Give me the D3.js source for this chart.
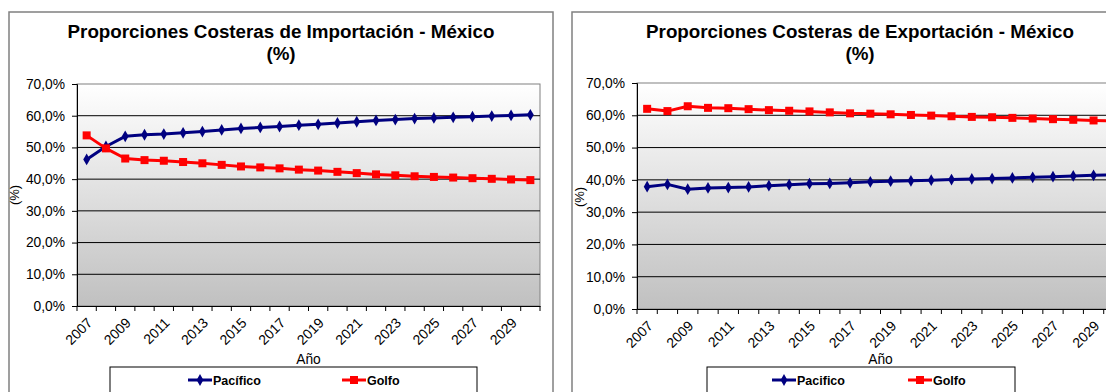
<!DOCTYPE html>
<html>
<head>
<meta charset="utf-8">
<script src="https://cdn.jsdelivr.net/npm/d3@7"></script>
<style>
  body { margin: 0; background: #fff; }
  svg { display: block; font-family: "Liberation Sans", Arial, sans-serif; }
</style>
</head>
<body>
<svg id="chart" width="1106" height="392"></svg>
<script>
// Categories (years) and y-axis ticks
const years = [2007, 2008, 2009, 2010, 2011, 2012, 2013, 2014, 2015, 2016, 2017, 2018,
               2019, 2020, 2021, 2022, 2023, 2024, 2025, 2026, 2027, 2028, 2029, 2030];
const yTickValues = [0, 10, 20, 30, 40, 50, 60, 70];

// Import shares (%)
const importPacifico = [46.2, 50.3, 53.5, 54.0, 54.2, 54.6, 55.0, 55.5, 56.0, 56.3, 56.6, 57.0,
                        57.3, 57.7, 58.1, 58.5, 58.8, 59.1, 59.3, 59.5, 59.7, 59.9, 60.1, 60.3];
const importGolfo    = [53.8, 49.7, 46.5, 46.0, 45.8, 45.4, 45.0, 44.5, 44.0, 43.7, 43.4, 43.0,
                        42.7, 42.3, 41.9, 41.5, 41.2, 40.9, 40.7, 40.5, 40.3, 40.1, 39.9, 39.7];

// Export shares (%)
const exportPacifico = [37.9, 38.6, 37.1, 37.5, 37.6, 37.8, 38.2, 38.5, 38.8, 38.9, 39.1, 39.4,
                        39.6, 39.7, 39.9, 40.1, 40.3, 40.4, 40.6, 40.8, 41.0, 41.2, 41.4, 41.6];
const exportGolfo    = [62.0, 61.3, 62.8, 62.3, 62.2, 61.9, 61.6, 61.4, 61.2, 60.9, 60.6, 60.5,
                        60.3, 60.1, 59.9, 59.7, 59.5, 59.4, 59.2, 59.0, 58.8, 58.6, 58.4, 58.3];

const svg = d3.select("#chart");

// shared vertical gradient for the plot areas
const defs = svg.append("defs");
const grad = defs.append("linearGradient")
  .attr("id", "plotFill").attr("x1", 0).attr("y1", 0).attr("x2", 0).attr("y2", 1);
grad.append("stop").attr("offset", "0%").attr("stop-color", "#ffffff");
grad.append("stop").attr("offset", "100%").attr("stop-color", "#c0c0c0");

const fmtPct = v => d3.format(".1f")(v).replace(".", ",") + "%";

function drawPanel(cfg) {
  const g = svg.append("g");

  // outer chart border
  g.append("rect")
    .attr("x", cfg.frame[0]).attr("y", cfg.frame[1])
    .attr("width", cfg.frame[2]).attr("height", cfg.frame[3])
    .attr("fill", "#fff").attr("stroke", "#808080").attr("stroke-width", 1.5);

  // title, two lines
  const title = g.append("text")
    .attr("x", cfg.titleX).attr("y", 38)
    .attr("text-anchor", "middle")
    .attr("font-size", 18.8).attr("font-weight", "bold").attr("fill", "#000");
  title.append("tspan").attr("x", cfg.titleX).text(cfg.title);
  title.append("tspan").attr("x", cfg.titleX).attr("dy", 22).text("(%)");

  const x = d3.scaleBand().domain(years).range([cfg.left, cfg.right]).padding(0);
  const y = d3.scaleLinear().domain([0, 70]).range([cfg.bottom, cfg.top]);
  const cx = d => x(d) + x.bandwidth() / 2;

  // plot area
  g.append("rect")
    .attr("x", cfg.left).attr("y", cfg.top)
    .attr("width", cfg.right - cfg.left).attr("height", cfg.bottom - cfg.top)
    .attr("fill", "url(#plotFill)").attr("stroke", "#808080").attr("stroke-width", 1);

  // horizontal gridlines
  g.append("g").selectAll("line")
    .data(yTickValues.filter(v => v > 0 && v < 70))
    .join("line")
    .attr("x1", cfg.left).attr("x2", cfg.right)
    .attr("y1", d => y(d)).attr("y2", d => y(d))
    .attr("stroke", "#000").attr("stroke-width", 1);

  // y axis
  const yAxis = g.append("g")
    .attr("transform", `translate(${cfg.left},0)`)
    .call(d3.axisLeft(y).tickValues(yTickValues).tickFormat(fmtPct).tickSize(5).tickPadding(7));
  yAxis.attr("font-family", null).attr("font-size", null);
  yAxis.select(".domain").attr("stroke", "#000");
  yAxis.selectAll(".tick line").attr("stroke", "#000");
  yAxis.selectAll("text").attr("font-size", 13.8).attr("fill", "#000");

  // x axis: labels on every other year, ticks at category boundaries
  const xAxis = g.append("g")
    .attr("transform", `translate(0,${cfg.bottom})`)
    .call(d3.axisBottom(x).tickSize(0)
      .tickFormat(d => (d - years[0]) % 2 === 0 ? String(d) : ""));
  xAxis.attr("font-family", null).attr("font-size", null);
  xAxis.select(".domain").attr("stroke", "#000");
  xAxis.selectAll(".tick text")
    .attr("font-size", 14).attr("fill", "#000")
    .attr("text-anchor", "end")
    .attr("dy", null)
    .attr("transform", "translate(4,15) rotate(-45)")
    .attr("y", 0).attr("x", 0)
    .attr("dominant-baseline", "middle");
  const bounds = years.map(d => x(d)).concat([x(years[years.length - 1]) + x.bandwidth()]);
  g.append("g").selectAll("line").data(bounds).join("line")
    .attr("x1", d => d).attr("x2", d => d)
    .attr("y1", cfg.bottom).attr("y2", cfg.bottom + 5)
    .attr("stroke", "#000");

  // axis titles
  g.append("text")
    .attr("x", (cfg.left + cfg.right) / 2).attr("y", 364)
    .attr("text-anchor", "middle").attr("font-size", 13.8).text("Año");
  g.append("text")
    .attr("transform", `translate(${cfg.yTitleX},${cfg.yTitleY}) rotate(-90)`)
    .attr("text-anchor", "middle").attr("font-size", 13).text("(%)");

  // series
  const line = d3.line().x((d, i) => cx(years[i])).y(d => y(d));
  const diamond = d3.symbol().type(d3.symbolDiamond).size(40);

  g.append("path").datum(cfg.pacifico)
    .attr("d", line).attr("fill", "none")
    .attr("stroke", "#000080").attr("stroke-width", 3).attr("stroke-linejoin", "round");
  g.append("g").selectAll("path").data(cfg.pacifico).join("path")
    .attr("d", diamond)
    .attr("transform", (d, i) => `translate(${cx(years[i])},${y(d)})`)
    .attr("fill", "#000080");

  g.append("path").datum(cfg.golfo)
    .attr("d", line).attr("fill", "none")
    .attr("stroke", "#ff0000").attr("stroke-width", 3).attr("stroke-linejoin", "round");
  g.append("g").selectAll("rect").data(cfg.golfo).join("rect")
    .attr("x", (d, i) => cx(years[i]) - 4).attr("y", d => y(d) - 4)
    .attr("width", 8).attr("height", 8)
    .attr("fill", "#ff0000");

  // legend
  const lg = g.append("g");
  lg.append("rect")
    .attr("x", cfg.legend[0]).attr("y", 367)
    .attr("width", cfg.legend[1] - cfg.legend[0]).attr("height", 28)
    .attr("fill", "#fff").attr("stroke", "#000").attr("stroke-width", 1);
  const ly = 380;
  const items = [
    { name: cfg.names[0], color: "#000080", x0: cfg.legendItems[0], kind: "diamond" },
    { name: cfg.names[1], color: "#ff0000", x0: cfg.legendItems[1], kind: "square" }
  ];
  items.forEach(it => {
    lg.append("line")
      .attr("x1", it.x0).attr("x2", it.x0 + 24).attr("y1", ly).attr("y2", ly)
      .attr("stroke", it.color).attr("stroke-width", 3);
    if (it.kind === "diamond") {
      lg.append("path").attr("d", diamond)
        .attr("transform", `translate(${it.x0 + 12},${ly})`).attr("fill", it.color);
    } else {
      lg.append("rect").attr("x", it.x0 + 8).attr("y", ly - 4)
        .attr("width", 8).attr("height", 8).attr("fill", it.color);
    }
    lg.append("text")
      .attr("x", it.x0 + 25).attr("y", ly + 4.5)
      .attr("font-size", 12.5).attr("font-weight", "bold").text(it.name);
  });
}

drawPanel({
  frame: [9, 12, 544, 400],
  title: "Proporciones Costeras de Importación - México",
  titleX: 281,
  left: 77, right: 540, top: 84, bottom: 306,
  yTitleX: 19, yTitleY: 195,
  pacifico: importPacifico, golfo: importGolfo,
  names: ["Pacífico", "Golfo"],
  legend: [110, 477],
  legendItems: [188, 342]
});

drawPanel({
  frame: [572, 12, 600, 400],
  title: "Proporciones Costeras de Exportación - México",
  titleX: 860,
  left: 637, right: 1124, top: 83, bottom: 309,
  yTitleX: 584, yTitleY: 197,
  pacifico: exportPacifico, golfo: exportGolfo,
  names: ["Pacifico", "Golfo"],
  legend: [707, 1015],
  legendItems: [772, 908]
});
</script>
</body>
</html>
